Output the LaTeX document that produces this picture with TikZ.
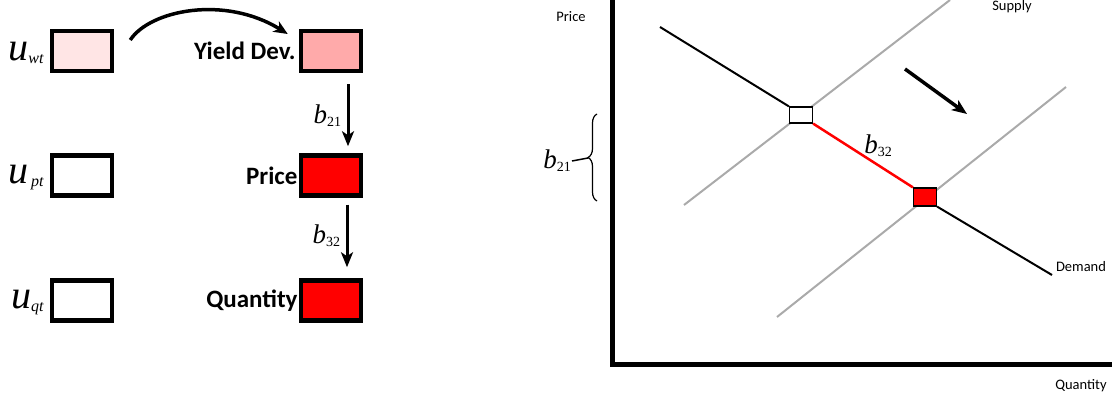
\documentclass[tikz,border=0pt]{standalone}
\usepackage{fontspec}
\setmainfont{Carlito}
\newfontfamily\tms{Liberation Serif}
\usetikzlibrary{arrows.meta,decorations.pathreplacing}
\definecolor{lpink}{HTML}{FFE5E5}
\definecolor{mpink}{HTML}{FFAAAA}
\definecolor{sgray}{HTML}{AAAAAA}
\newcommand{\ulab}[1]{{\tms\fontsize{40}{42}\selectfont\itshape u}{\tms\fontsize{16}{17}\selectfont\itshape\raisebox{-0.4ex}{#1}}}
\newcommand{\blab}[1]{{\tms\fontsize{27}{28}\selectfont\itshape b}{\tms\fontsize{14}{15}\selectfont\raisebox{-0.45ex}{#1}}}
\begin{document}
\begin{tikzpicture}[x=1pt,y=-1pt,
  varbox/.style={draw,line width=4.5pt,minimum width=60pt,minimum height=40pt,inner sep=0pt},
  varlab/.style={font=\fontsize{25}{27}\selectfont\bfseries,inner sep=0pt,anchor=east},
  ulabel/.style={inner sep=0pt,anchor=east},
  causal/.style={line width=3pt,-{Stealth[length=15pt,width=12pt,inset=4pt]}},
  axis/.style={line width=5pt},
  supply/.style={sgray,line width=2pt},
  demand/.style={black,line width=2pt},
  eqbox/.style={draw,line width=1.2pt,minimum width=23pt,minimum height=16pt,inner sep=0pt},
  axlab/.style={font=\fontsize{14.5}{16}\selectfont,inner sep=0pt}]
\useasboundingbox (0,0) rectangle (1112,398);
% left panel
\node[varbox,fill=lpink] (uwt) at (82,51) {};
\node[varbox] (upt) at (82,175.5) {};
\node[varbox] (uqt) at (82,300.5) {};
\node[varbox,fill=mpink] (yld) at (331,51) {};
\node[varbox,fill=red] (prc) at (331,175.5) {};
\node[varbox,fill=red] (qty) at (331,300.5) {};
\node[ulabel] (luwt) at ([xshift=-6pt,yshift=-2pt]uwt.west) {\ulab{wt}};
\node[ulabel] (lupt) at ([xshift=-6pt,yshift=-2pt]upt.west) {\ulab{\,pt}};
\node[ulabel] (luqt) at ([xshift=-6pt,yshift=-2pt]uqt.west) {\ulab{qt}};
\node[varlab] (lyld) at ([xshift=-3pt]yld.west) {Yield Dev.};
\node[varlab] (lprc) at ([xshift=-1pt]prc.west) {Price};
\node[varlab] (lqty) at ([xshift=-1pt]qty.west) {Quantity};
\draw[line width=3.5pt,-{Stealth[length=14pt,width=12pt,inset=4pt]}]
  ([xshift=16pt,yshift=11pt]uwt.east) .. controls (150,10) and (225,-5) .. ([xshift=-11pt,yshift=17pt]yld.west);
\draw[causal] ([xshift=17pt,yshift=-11pt]yld.south) -- ([xshift=17pt,yshift=7pt]prc.north) node[midway,left=2pt] (b21) {\blab{21}};
\draw[causal] ([xshift=16pt,yshift=-7pt]prc.south) -- ([xshift=16pt,yshift=11pt]qty.north) node[midway,left=2pt] (b32) {\blab{32}};
% right panel
\coordinate (atop) at (612,0);
\coordinate (aorig) at (612,364);
\coordinate (aright) at (1112,364);
\draw[axis] (atop) -- (aorig) -- (aright);
\node[axlab] (lprice) at (571,17) {Price};
\node[axlab] (lquant) at (1081,386) {Quantity};
\node[axlab,anchor=north] (lsup) at (1012,0.5) {Supply};
\node[axlab] (ldem) at (1081,267) {Demand};
\coordinate (s1a) at (684,205);
\coordinate (s1b) at (950,0);
\coordinate (s2a) at (777,317);
\coordinate (s2b) at (1066,87);
\draw[supply] (s1a) -- (s1b);
\draw[supply] (s2a) -- (s2b);
\coordinate (d1) at (660,27);
\coordinate (d2) at (1052,275);
\node[eqbox,fill=white] (eq1) at (801,115) {};
\node[eqbox,fill=red,minimum height=18pt] (eq2) at (925,197) {};
\draw[demand] (d1) -- (eq1.north west);
\draw[red,line width=2.5pt] (eq1.south east) -- (eq2.north west);
\draw[demand] (eq2.south east) -- (d2);
\node (b32r) at (878,146) {\blab{32}};
\coordinate (sh1) at (905,69);
\coordinate (sh2) at (967,114);
\draw[line width=3.5pt,-{Stealth[length=15pt,width=12pt,inset=4pt]}] (sh1) -- (sh2);
\coordinate (brt) at (597,114);
\coordinate (brb) at (597,201);
\draw[line width=1.2pt,decorate,decoration={brace,amplitude=9pt}] (brb) -- (brt);
\node[anchor=east,inner sep=1pt] (b21r) at (572,161) {\blab{21}};
\draw[line width=1.5pt] (b21r.east) -- (588,158);
\end{tikzpicture}
\end{document}
